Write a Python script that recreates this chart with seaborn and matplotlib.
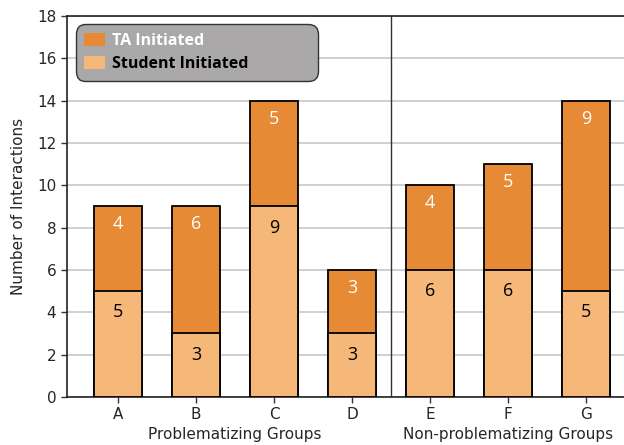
import matplotlib
matplotlib.use("Agg")
import matplotlib.pyplot as plt
import seaborn as sns
import pandas as pd
from matplotlib.patches import Patch

groups = ["A", "B", "C", "D", "E", "F", "G"]
student = [5, 3, 9, 3, 6, 6, 5]
ta = [4, 6, 5, 3, 4, 5, 9]
group_labels = ["Problematizing Groups", "Non-problematizing Groups"]

ta_color = "#e68a35"
st_color = "#f5b879"

sns.set_style("white")
plt.rcParams['font.family'] = ['DejaVu Sans']

df = pd.DataFrame({"group": groups, "student": student, "ta": ta})
df["total"] = df["student"] + df["ta"]

fig = plt.figure(figsize=(6.24, 4.45), dpi=100)
ax = fig.add_axes([0.107, 0.108, 0.893, 0.856])

sns.barplot(data=df, x="group", y="total", color=ta_color, width=0.62,
            edgecolor="black", linewidth=1.3, ax=ax, saturation=1, zorder=3)
sns.barplot(data=df, x="group", y="student", color=st_color, width=0.62,
            edgecolor="black", linewidth=1.3, ax=ax, saturation=1, zorder=3)

for i, (s, t) in enumerate(zip(student, ta)):
    ax.text(i, s - 1.0, str(s), ha="center", va="center", fontsize=13,
            family="Open Sans", color="black", zorder=4)
    ax.text(i, s + t - 0.85, str(t), ha="center", va="center", fontsize=13,
            family="Open Sans", color="white", zorder=4)

ax.set_ylim(0, 18)
ax.set_xlim(-0.66, 6.49)
ax.set_yticks(range(0, 19, 2))
ax.yaxis.grid(True, color="#c8c8c8", linewidth=1.2, zorder=0)
ax.set_axisbelow(True)
ax.axvline(3.5, color="#333333", linewidth=1.0, zorder=2)

ax.set_xlabel("")
ax.set_ylabel("Number of Interactions", fontsize=11, labelpad=8)
ax.tick_params(axis="both", labelsize=11, length=4, width=1, color="#333333", left=True, bottom=True)
for sp in ["left", "bottom", "top"]:
    ax.spines[sp].set_color("#222222")
    ax.spines[sp].set_linewidth(1.2)
ax.spines["right"].set_visible(False)

ax.text(1.5, -0.099, group_labels[0], transform=ax.get_xaxis_transform(),
        ha="center", va="center", fontsize=11)
ax.text(5.0, -0.099, group_labels[1], transform=ax.get_xaxis_transform(),
        ha="center", va="center", fontsize=11)

handles = [Patch(facecolor=ta_color, edgecolor="none", label="TA Initiated"),
           Patch(facecolor=st_color, edgecolor="none", label="Student Initiated")]
leg = ax.legend(handles=handles, loc="upper left", mode="expand",
                bbox_to_anchor=(0.016, 0.5, 0.435, 0.479),
                prop={"family": "Open Sans", "weight": "bold", "size": 11.5},
                frameon=True, fancybox=True, facecolor="#aaa8a8", edgecolor="#333333",
                framealpha=1, borderpad=0.55, labelspacing=0.45, handlelength=1.3,
                handleheight=0.9, handletextpad=0.4, borderaxespad=0.0)
leg.get_frame().set_linewidth(1.0)
leg.get_frame().set_boxstyle("round", pad=0.0, rounding_size=0.6)
leg.texts[0].set_color("white")
leg.texts[1].set_color("black")

fig.savefig("out.png", dpi=100)
